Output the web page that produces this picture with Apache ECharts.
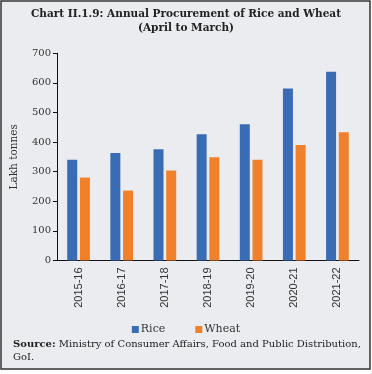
<!DOCTYPE html>
<html><head><meta charset="utf-8">
<script src="https://cdn.jsdelivr.net/npm/echarts@6/dist/echarts.min.js"></script>
<style>html,body{margin:0;padding:0;background:#fff}#c{width:372px;height:374px}</style>
</head><body><div id="c"></div>
<script>
const categories = ['2015-16','2016-17','2017-18','2018-19','2019-20','2020-21','2021-22'];
const rice = [340, 363, 376, 426, 460, 581, 638];
const wheat = [280, 236, 304, 349, 340, 390, 433];
const yTicks = [0, 100, 200, 300, 400, 500, 600, 700];
const titleLines = ['Chart II.1.9: Annual Procurement of Rice and Wheat', '(April to March)'];
const seriesNames = ['Rice', 'Wheat'];
const sourceText = 'Ministry of Consumer Affairs, Food and Public Distribution,';
const sourceText2 = 'GoI.';

const serif = '"DejaVu Serif", "Liberation Serif", serif';
const chart = echarts.init(document.getElementById('c'), null, {renderer: 'canvas'});
chart.setOption({
  backgroundColor: '#fff',
  animation: false,
  graphic: [
    {type: 'rect', shape: {x: 1, y: 1, width: 369, height: 368}, style: {fill: '#EBECF0', stroke: '#333', lineWidth: 1.5}, z: -10},
    {type: 'text', left: 'center', top: 9, style: {text: titleLines[0], font: 'bold 10.5px ' + serif, fill: '#222'}},
    {type: 'text', left: 'center', top: 23, style: {text: titleLines[1], font: 'bold 10.5px ' + serif, fill: '#222'}},
    {type: 'text', left: 13, top: 339, style: {text: '{b|Source:} ' + sourceText, rich: {b: {font: 'bold 10px ' + serif, fill: '#222'}}, font: '10px ' + serif, fill: '#222'}},
    {type: 'text', left: 13, top: 352, style: {text: sourceText2, font: '10px ' + serif, fill: '#222'}}
  ],
  legend: {
    data: seriesNames, top: 319, left: 'center', itemWidth: 7, itemHeight: 7, itemGap: 30,
    icon: 'rect',
    textStyle: {fontFamily: serif, fontSize: 11, color: '#333', padding: [0, 0, 0, -3]}
  },
  grid: {left: 57, right: 13, top: 53.3, bottom: 113.6},
  xAxis: {
    type: 'category', data: categories,
    axisLine: {lineStyle: {color: '#111', width: 1}},
    axisTick: {length: 4, lineStyle: {color: '#111'}},
    axisLabel: {rotate: 90, fontFamily: '"Liberation Sans", Arial, sans-serif', fontSize: 11, color: '#333', margin: 7}
  },
  yAxis: {
    type: 'value', min: yTicks[0], max: yTicks[yTicks.length - 1], interval: 100,
    name: 'Lakh tonnes', nameLocation: 'middle', nameGap: 37,
    nameTextStyle: {fontFamily: serif, fontSize: 10.5, color: '#333'},
    axisLine: {show: true, lineStyle: {color: '#111', width: 1}},
    axisTick: {show: true, length: 4, lineStyle: {color: '#111'}},
    splitLine: {show: false},
    axisLabel: {fontFamily: serif, fontSize: 10, color: '#333', margin: 6}
  },
  series: [
    {name: seriesNames[0], type: 'bar', data: rice, barWidth: 10, barGap: '27%', itemStyle: {color: '#3A6BB5'}},
    {name: seriesNames[1], type: 'bar', data: wheat, barWidth: 10, itemStyle: {color: '#F0802A'}}
  ]
});
</script></body></html>
